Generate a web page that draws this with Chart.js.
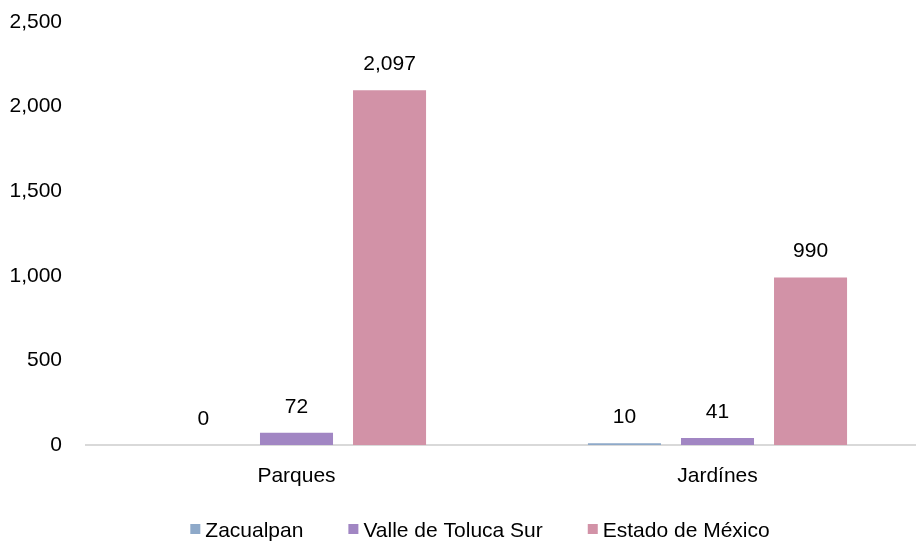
<!DOCTYPE html>
<html>
<head>
<meta charset="utf-8">
<script src="https://cdn.jsdelivr.net/npm/chart.js@4/dist/chart.umd.min.js"></script>
<style>
  html, body { margin: 0; padding: 0; background: #fff; overflow: hidden; }
  #wrap { width: 928px; height: 545px; }
</style>
</head>
<body>
<div id="wrap"><canvas id="chart"></canvas></div>
<script>
// Categories and series
const categories = ['Parques', 'Jardínes'];
const zacualpan = [0, 10];
const valleTolucaSur = [72, 41];
const estadoMexico = [2097, 990];
const yTicks = [0, 500, 1000, 1500, 2000, 2500];

const FONT = '"Liberation Sans Narrow", "Liberation Sans", Arial, sans-serif';
const FONT_SIZE = 21;
const fmt = v => v.toLocaleString('en-US');

// Draw each bar's value above it
const valueLabels = {
    id: 'valueLabels',
    afterDatasetsDraw(chart) {
        const ctx = chart.ctx;
        ctx.save();
        ctx.font = FONT_SIZE + 'px ' + FONT;
        ctx.fillStyle = '#000';
        ctx.textAlign = 'center';
        ctx.textBaseline = 'alphabetic';
        chart.data.datasets.forEach((ds, i) => {
            chart.getDatasetMeta(i).data.forEach((bar, j) => {
                ctx.fillText(fmt(ds.data[j]), bar.x, bar.y - 20);
            });
        });
        ctx.restore();
    }
};

// Legend row at the bottom: small square, short gap, label, wide gap
const bottomLegend = {
    id: 'bottomLegend',
    afterDraw(chart) {
        const ctx = chart.ctx;
        const box = 10, gap = 5, spacing = 45, baseline = 537, center = 480;
        ctx.save();
        ctx.font = FONT_SIZE + 'px ' + FONT;
        ctx.textBaseline = 'alphabetic';
        ctx.textAlign = 'left';
        const items = chart.data.datasets.map(ds => ({
            text: ds.label,
            color: ds.backgroundColor,
            w: box + gap + ctx.measureText(ds.label).width
        }));
        const total = items.reduce((s, it) => s + it.w, 0) + spacing * (items.length - 1);
        let x = center - total / 2;
        items.forEach(it => {
            ctx.fillStyle = it.color;
            ctx.fillRect(x, baseline - 13, box, box);
            ctx.fillStyle = '#000';
            ctx.fillText(it.text, x + box + gap, baseline);
            x += it.w + spacing;
        });
        ctx.restore();
    }
};

new Chart(document.getElementById('chart'), {
    type: 'bar',
    data: {
        labels: categories,
        datasets: [
            { label: 'Zacualpan', data: zacualpan, backgroundColor: '#8ea9c9' },
            { label: 'Valle de Toluca Sur', data: valleTolucaSur, backgroundColor: '#a186c3' },
            { label: 'Estado de México', data: estadoMexico, backgroundColor: '#d292a7' }
        ]
    },
    options: {
        responsive: true,
        maintainAspectRatio: false,
        animation: false,
        layout: { padding: { left: 0, right: 0, top: 22, bottom: 48 } },
        datasets: {
            bar: { categoryPercentage: 0.663, barPercentage: 0.785 }
        },
        scales: {
            x: {
                grid: { display: false, drawTicks: false },
                border: { color: '#d9d9d9', width: 2 },
                ticks: { color: '#000', font: { family: FONT, size: FONT_SIZE }, padding: 19 },
                afterFit: axis => { axis.height = 52; }
            },
            y: {
                min: 0,
                max: 2500,
                afterBuildTicks: axis => { axis.ticks = yTicks.map(v => ({ value: v })); },
                afterFit: axis => {
                    axis.width = 86;
                    axis.paddingTop = 0;
                    axis.paddingBottom = 0;
                },
                grid: { display: false, drawTicks: false },
                border: { display: false },
                ticks: {
                    color: '#000',
                    font: { family: FONT, size: FONT_SIZE },
                    padding: 24,
                    callback: v => fmt(v)
                }
            }
        },
        plugins: {
            legend: { display: false },
            tooltip: { enabled: false }
        }
    },
    plugins: [valueLabels, bottomLegend]
});
</script>
</body>
</html>
